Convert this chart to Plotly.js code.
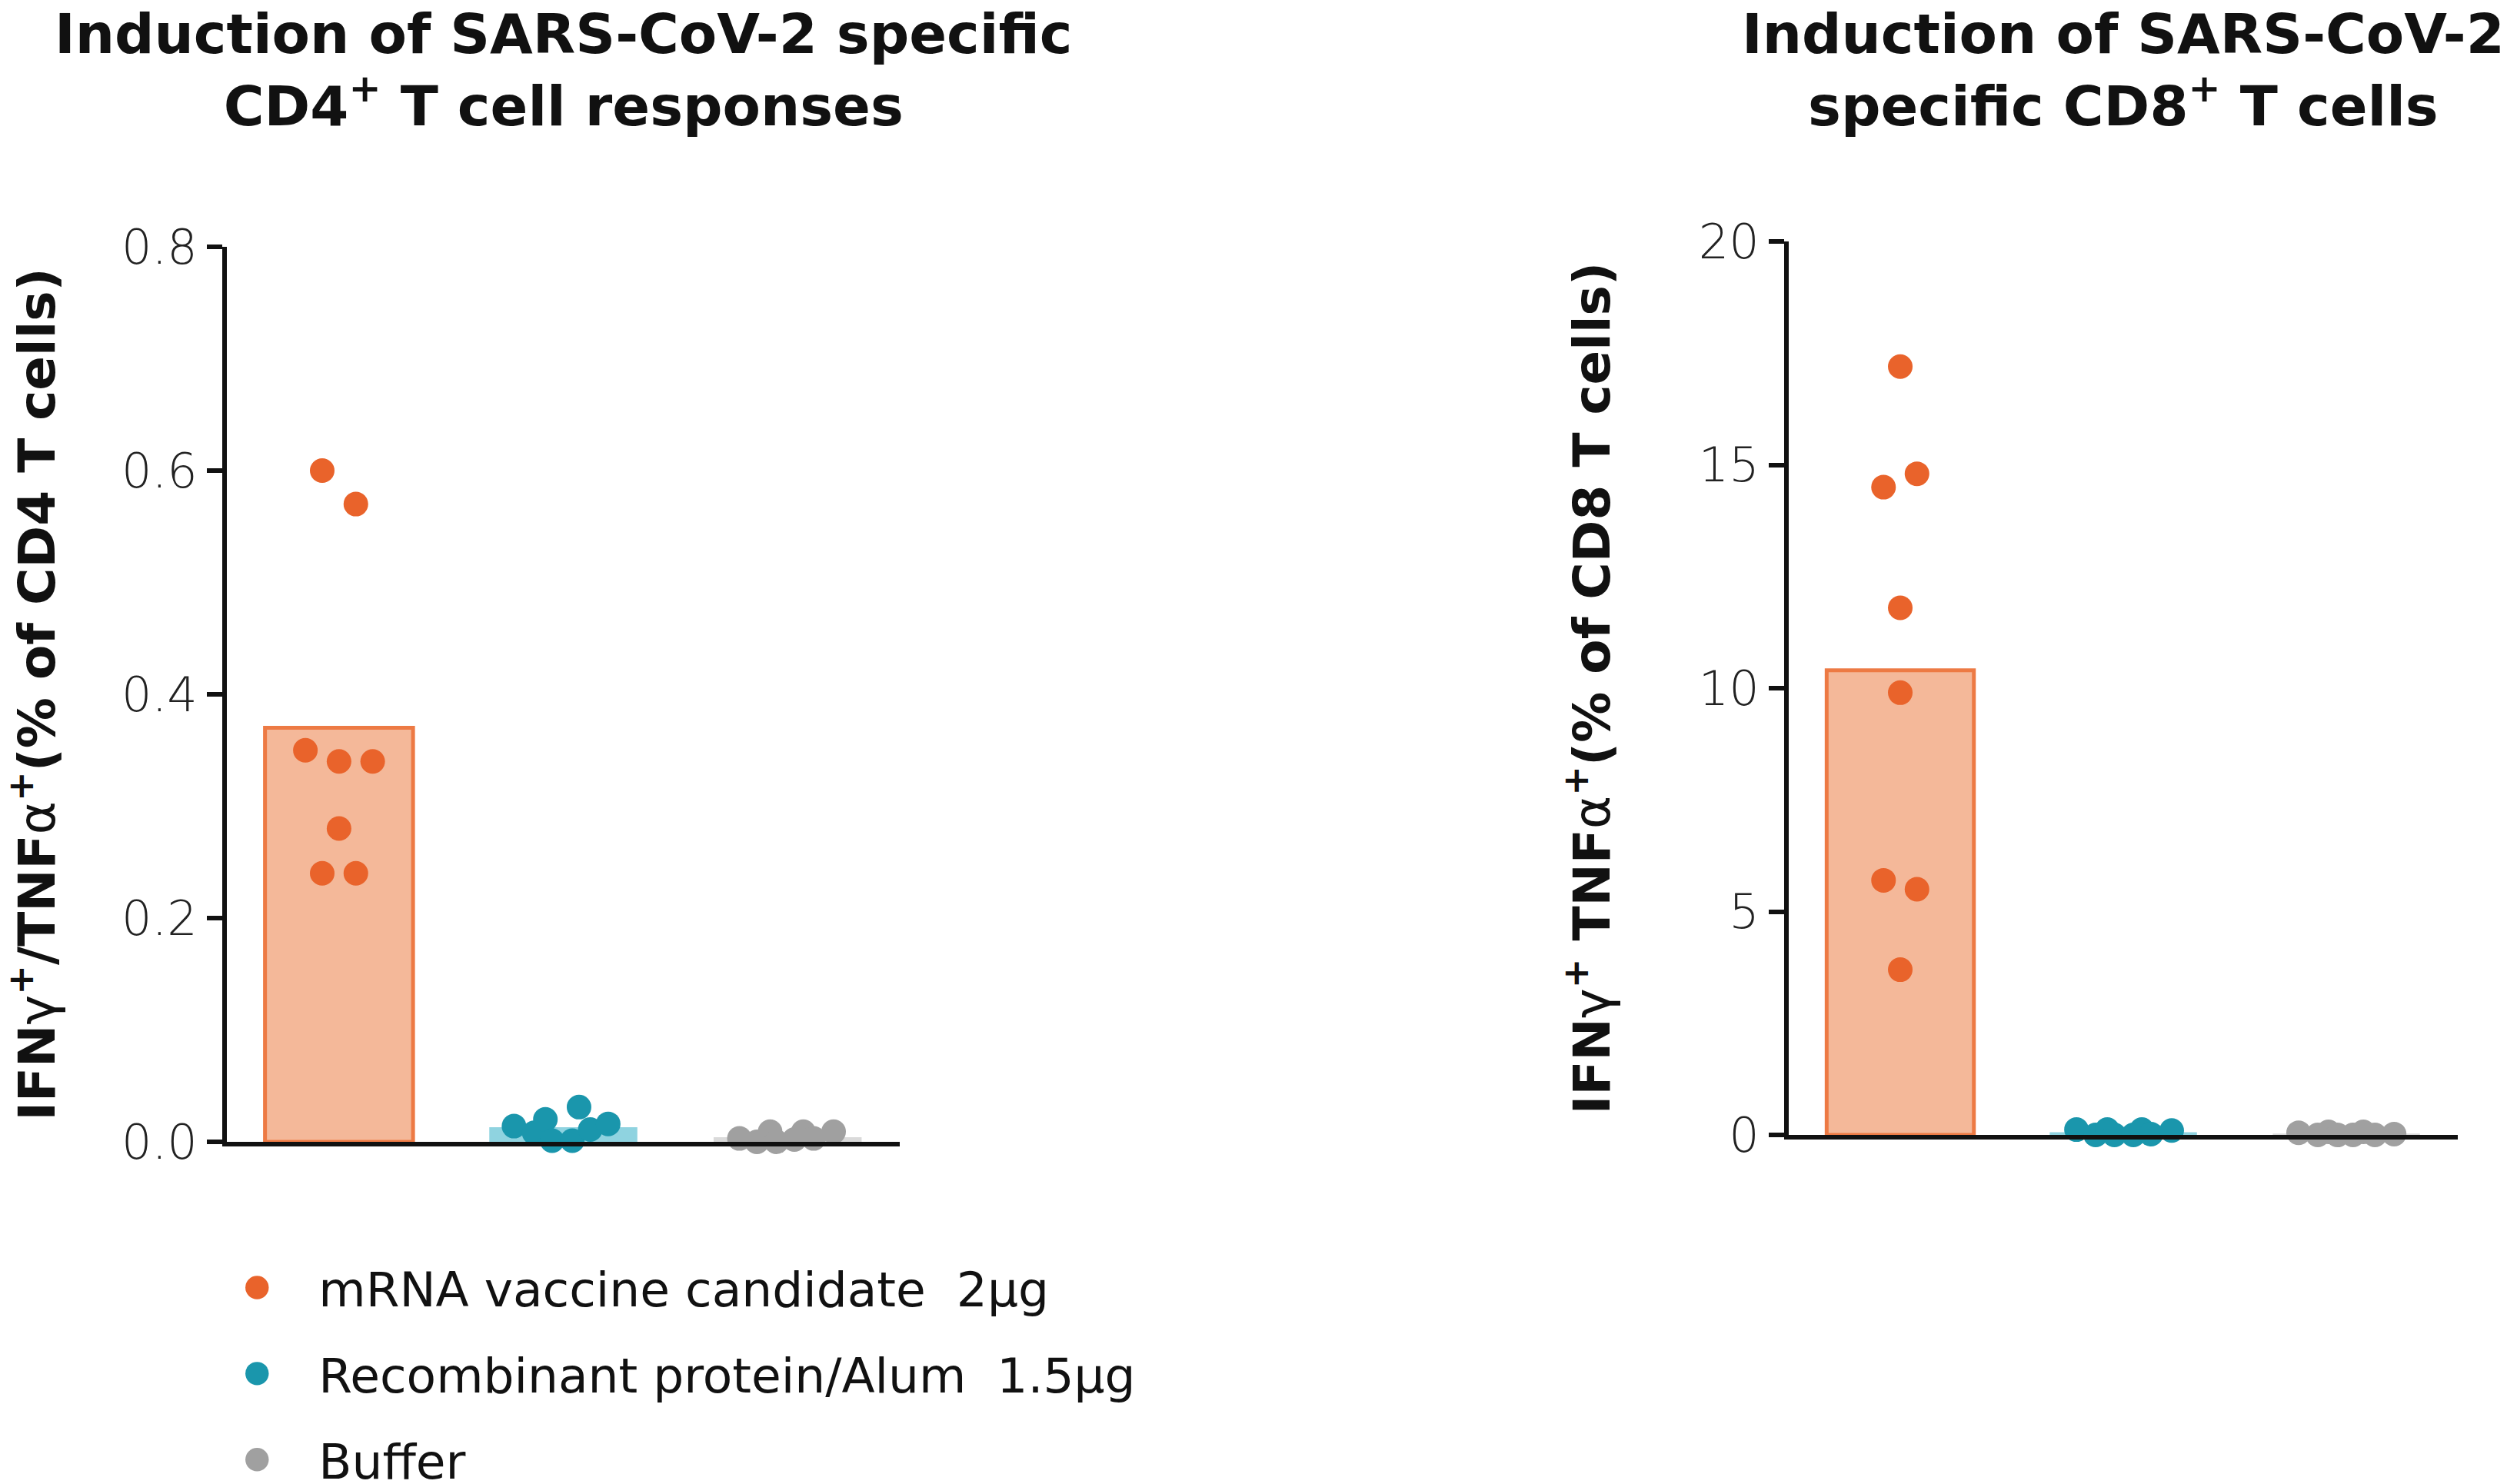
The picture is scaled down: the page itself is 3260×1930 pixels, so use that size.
<!DOCTYPE html>
<html>
<head>
<meta charset="utf-8">
<script src="https://cdn.plot.ly/plotly-3.0.1.min.js"></script>
<style>html,body{margin:0;padding:0;background:#fff;}#chart{width:3260px;height:1930px;}</style>
</head>
<body>
<div id="chart"></div>
<script>
// ---- data ----
var groups = ["mRNA vaccine candidate\u00a0 2\u00b5g", "Recombinant protein/Alum\u00a0 1.5\u00b5g", "Buffer"];

// CD4 panel: IFNγ+/TNFα+ (% of CD4 T cells)
var cd4BarMeans = [0.37, 0.013, 0.004];
var cd4Mrna    = [0.60, 0.57, 0.35, 0.34, 0.34, 0.28, 0.24, 0.24];
var cd4Protein = [0.014, 0.008, 0.020, 0.001, 0.001, 0.031, 0.011, 0.016];
var cd4Buffer  = [0.003, 0.000, 0.009, 0.000, 0.002, 0.009, 0.003, 0.009];

// CD8 panel: IFNγ+ TNFα+ (% of CD8 T cells)
var cd8BarMeans = [10.4, 0.06, 0.03];
var cd8Mrna    = [17.2, 14.8, 14.5, 11.8, 9.9, 5.7, 5.5, 3.7];
var cd8Protein = [0.12, 0.00, 0.12, 0.00, 0.00, 0.12, 0.02, 0.10];
var cd8Buffer  = [0.05, 0.00, 0.07, 0.00, 0.00, 0.07, 0.00, 0.02];

var cd4Ticks = [0, 0.2, 0.4, 0.6, 0.8];
var cd8Ticks = [0, 5, 10, 15, 20];

// horizontal scatter (jitter) of the dots within each group, in category units
var cd4MrnaJitter    = [-0.075, 0.075, -0.15, 0, 0.15, 0, -0.075, 0.075];
var cd4ProteinJitter = [-0.22, -0.13, -0.08, -0.05, 0.04, 0.07, 0.12, 0.20];
var cd4BufferJitter  = [-0.215, -0.137, -0.078, -0.05, 0.03, 0.07, 0.116, 0.205];
var cd8MrnaJitter    = [0, 0.075, -0.075, 0, 0, -0.075, 0.075, 0];
var cd8ProteinJitter = [-0.21, -0.124, -0.072, -0.04, 0.045, 0.083, 0.124, 0.217];
var cd8BufferJitter  = [-0.214, -0.128, -0.08, -0.04, 0.03, 0.076, 0.128, 0.214];

// ---- styles ----
var dotColors  = ["#e9632b", "#1a96ac", "#a0a0a0"];
var barColors  = ["#f4b899", "#8fd3e0", "#dadada"];
var barLines   = ["#ed7a44", "#8fd3e0", "#dadada"];
var barLineW   = [5, 0, 0];
var FONT = "DejaVu Sans, Verdana, sans-serif";

function place(idx, jit) { return jit.map(function (j) { return idx + j; }); }

var traces = [];
function addPanel(xa, ya, means, series, jitters, showLeg) {
  traces.push({
    type: "bar", x: [0, 1, 2], y: means, width: 0.66, xaxis: xa, yaxis: ya,
    marker: { color: barColors, line: { color: barLines, width: barLineW } },
    showlegend: false, hoverinfo: "y"
  });
  for (var g = 0; g < 3; g++) {
    traces.push({
      type: "scatter", mode: "markers", name: groups[g], legendgroup: "g" + g,
      x: place(g, jitters[g]), y: series[g], xaxis: xa, yaxis: ya,
      marker: { color: dotColors[g], size: 32, line: { width: 0 } },
      cliponaxis: false, showlegend: showLeg
    });
  }
}
addPanel("x", "y", cd4BarMeans, [cd4Mrna, cd4Protein, cd4Buffer],
         [cd4MrnaJitter, cd4ProteinJitter, cd4BufferJitter], true);
addPanel("x2", "y2", cd8BarMeans, [cd8Mrna, cd8Protein, cd8Buffer],
         [cd8MrnaJitter, cd8ProteinJitter, cd8BufferJitter], false);

var xCommon = {
  range: [-0.5, 2.5], showline: true, linecolor: "#111", linewidth: 6,
  ticks: "", showticklabels: false, showgrid: false, zeroline: false, fixedrange: true
};
var yCommon = {
  showline: true, linecolor: "#111", linewidth: 6, ticks: "outside", ticklen: 20,
  tickwidth: 6, tickcolor: "#111", showgrid: false, zeroline: false,
  tickfont: { family: FONT, size: 62, color: "#222", weight: 200 },
  automargin: false
};

var yTitleFont = { family: FONT, size: 66, color: "#111", weight: "bold" };
var layout = {
  width: 3260, height: 1930,
  margin: { l: 0, r: 0, t: 0, b: 0, autoexpand: false },
  paper_bgcolor: "#fff", plot_bgcolor: "rgba(0,0,0,0)",
  bargap: 0,
  xaxis: Object.assign({}, xCommon, { domain: [0.0905, 0.3589], anchor: "y" }),
  yaxis: Object.assign({}, yCommon, {
    domain: [0.2306, 0.8337], anchor: "x", range: [0, 0.8],
    tickvals: cd4Ticks, tickformat: ".1f",
    title: { text: "IFN<span style='font-weight:normal'>\u03b3</span><sup>+</sup>/TNF<span style='font-weight:normal'>\u03b1</span><sup>+</sup>(% of CD4 T cells)",
             font: yTitleFont, standoff: 96 }
  }),
  xaxis2: Object.assign({}, xCommon, { domain: [0.7135, 0.9804], anchor: "y2" }),
  yaxis2: Object.assign({}, yCommon, {
    domain: [0.2352, 0.8373], anchor: "x2", range: [0, 20],
    tickvals: cd8Ticks,
    title: { text: "IFN<span style='font-weight:normal'>\u03b3</span><sup>+</sup> TNF<span style='font-weight:normal'>\u03b1</span><sup>+</sup>(% of CD8 T cells)",
             font: yTitleFont, standoff: 96 }
  }),
  annotations: [
    { text: "Induction of SARS-CoV-2 specific<br>CD4<sup>+</sup> T cell responses",
      xref: "paper", yref: "paper", x: 0.2247, y: 1.0, xanchor: "center", yanchor: "top",
      showarrow: false, font: { family: FONT, size: 72, color: "#111", weight: "bold" } },
    { text: "Induction of SARS-CoV-2<br>specific CD8<sup>+</sup> T cells",
      xref: "paper", yref: "paper", x: 0.847, y: 1.0, xanchor: "center", yanchor: "top",
      showarrow: false, font: { family: FONT, size: 72, color: "#111", weight: "bold" } }
  ],
  showlegend: true,
  legend: {
    x: 0.078, y: 0.157, xanchor: "left", yanchor: "top",
    font: { family: FONT, size: 63, color: "#111" },
    itemwidth: 150, tracegroupgap: 27, bgcolor: "rgba(0,0,0,0)", borderwidth: 0
  }
};

Plotly.newPlot("chart", traces, layout, { displayModeBar: false, staticPlot: true }).then(function () {
  document.querySelectorAll(".legend path.scatterpts").forEach(function (p) {
    var t = p.getAttribute("transform") || "";
    p.setAttribute("transform", t + " scale(1.9)");
  });
});
</script>
</body>
</html>
